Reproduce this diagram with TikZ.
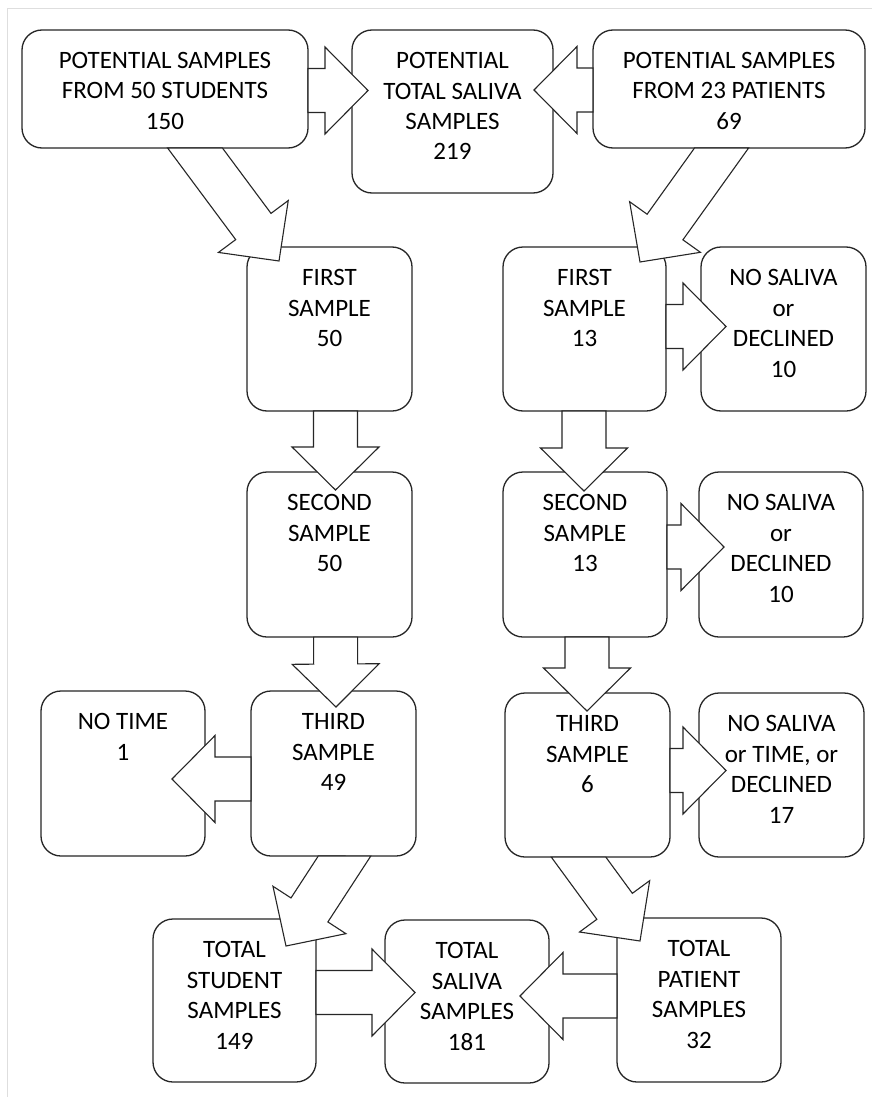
\documentclass[tikz,border=0pt]{standalone}
\usepackage{fontspec}
\setmainfont{Carlito}
\usetikzlibrary{calc}
\tikzset{
  box/.style={draw=black!85, line width=1.3pt, rounded corners=20pt, fill=white, inner sep=0pt, outer sep=0pt},
  blk/.style={draw=black!85, line width=1.1pt, fill=white, line join=miter},
  frameline/.style={draw=black!13, line width=1pt}
}
\newcommand\baSW{22pt}
\newcommand\baHW{43.5pt}
\newcommand\baHL{43pt}
% #1 name, #2 centre, #3 width, #4 height, #5 text
\newcommand\bx[5]{\node[box] (#1) at (#2) {\begin{minipage}[c][#4pt][t]{#3pt}\centering\fontsize{25}{30.5}\selectfont\rule{0pt}{38.5pt}#5\end{minipage}};}
% #1 start, #2 tip, #3 direction of source edge
\newcommand\blockarrow[3]{%
  \coordinate (ba-S) at #1;
  \coordinate (ba-T) at #2;
  \coordinate (ba-E) at ($(ba-S)+#3$);
  \coordinate (ba-B) at ($(ba-T)!\baHL!(ba-S)$);
  \coordinate (ba-b1) at ($(ba-B)!\baSW!90:(ba-T)$);
  \coordinate (ba-b2) at ($(ba-B)!\baSW!-90:(ba-T)$);
  \coordinate (ba-h1) at ($(ba-B)!\baHW!90:(ba-T)$);
  \coordinate (ba-h2) at ($(ba-B)!\baHW!-90:(ba-T)$);
  \coordinate (ba-p1) at ($(ba-S)!\baSW!90:(ba-T)$);
  \coordinate (ba-p2) at ($(ba-S)!\baSW!-90:(ba-T)$);
  \draw[blk] (intersection of ba-b1--ba-p1 and ba-S--ba-E) -- (ba-b1) -- (ba-h1) -- (ba-T)
     -- (ba-h2) -- (ba-b2) -- (intersection of ba-b2--ba-p2 and ba-S--ba-E) -- cycle;
}
\begin{document}
\begin{tikzpicture}[x=1pt,y=-1pt]
\useasboundingbox (0,0) rectangle (872,1097);
\fill[white] (0,0) rectangle (872,1097);
\draw[frameline] (7.5,1097) -- (7.5,8.5) -- (872,8.5);

\bx{A}{165,89}{286}{118}{POTENTIAL SAMPLES\\FROM 50 STUDENTS\\150}
\bx{B}{452.5,111.5}{201}{163}{POTENTIAL\\TOTAL SALIVA\\SAMPLES\\219}
\bx{C}{729,89}{272}{118}{POTENTIAL SAMPLES\\FROM 23 PATIENTS\\69}

\bx{SF}{329.5,329}{165}{164}{FIRST\\SAMPLE\\50}
\bx{PF}{584.5,329}{163}{164}{FIRST\\SAMPLE\\13}
\bx{NSa}{783.5,329}{165}{164}{NO SALIVA\\or\\DECLINED\\10}

\bx{SS}{329.5,554.5}{165}{165}{SECOND\\SAMPLE\\50}
\bx{PS}{585,554.5}{164}{165}{SECOND\\SAMPLE\\13}
\bx{NSb}{781,554.5}{164}{165}{NO SALIVA\\or\\DECLINED\\10}

\bx{NT}{123,773.5}{164}{165}{NO TIME\\1}
\bx{ST}{333.5,773.5}{165}{165}{THIRD\\SAMPLE\\49}
\bx{PT}{587.5,775}{165}{164}{THIRD\\SAMPLE\\6}
\bx{NSc}{781.5,775}{165}{164}{NO SALIVA\\or TIME, or\\DECLINED\\17}

\bx{TS}{234.5,1000.5}{163}{163}{TOTAL\\STUDENT\\SAMPLES\\149}
\bx{TV}{467,1001.5}{164}{163}{TOTAL\\SALIVA\\SAMPLES\\181}
\bx{TP}{699,1000}{164}{164}{TOTAL\\PATIENT\\SAMPLES\\32}

\blockarrow{($(A.east)+(0,1.5)$)}{($(A.east -| B.west)+(16,1.5)$)}{(0,1)}
\blockarrow{($(C.west)+(0,1)$)}{($(C.west -| B.east)+(-19,1)$)}{(0,1)}
\blockarrow{($(A.south)+(30,0)$)}{($(SF.north west)+(32,14)$)}{(1,0)}
\blockarrow{($(C.south)+(-7.5,0)$)}{($(PF.north east)+(-26,15)$)}{(1,0)}
\blockarrow{($(ST.south)+(11,0)$)}{($(TS.north east)+(-30,27)$)}{(1,0)}
\blockarrow{($(PT.south)+(-9,0)$)}{($(TP.north west)+(23,23)$)}{(1,0)}
\blockarrow{($(SF.south)+(6,0)$)}{($(SS.north)+(6,18)$)}{(1,0)}
\blockarrow{($(SS.south)+(6,0)$)}{($(ST.north)+(2.5,16)$)}{(1,0)}
\blockarrow{($(ST.west)+(0,5.5)$)}{($(NT.east)+(-33,5.5)$)}{(0,1)}
\blockarrow{($(PF.south)+(-0.5,0)$)}{($(PS.north)+(-1,19)$)}{(1,0)}
\blockarrow{($(PS.south)+(2,0)$)}{($(PT.north)+(-0.5,18)$)}{(1,0)}
\blockarrow{($(PF.east)+(0,-2.5)$)}{($(NSa.west)+(25,-2.5)$)}{(0,1)}
\blockarrow{($(PS.east)+(0,-7.5)$)}{($(NSb.west)+(25,-7.5)$)}{(0,1)}
\blockarrow{($(PT.east)+(0,-4.5)$)}{($(NSc.west)+(27,-4.5)$)}{(0,1)}
\blockarrow{($(TS.east)+(0,-8)$)}{($(TV.west)+(30,-9)$)}{(0,1)}
\blockarrow{($(TP.west)+(0,-4)$)}{($(TV.east)+(-29,-5.5)$)}{(0,1)}
\end{tikzpicture}
\end{document}
